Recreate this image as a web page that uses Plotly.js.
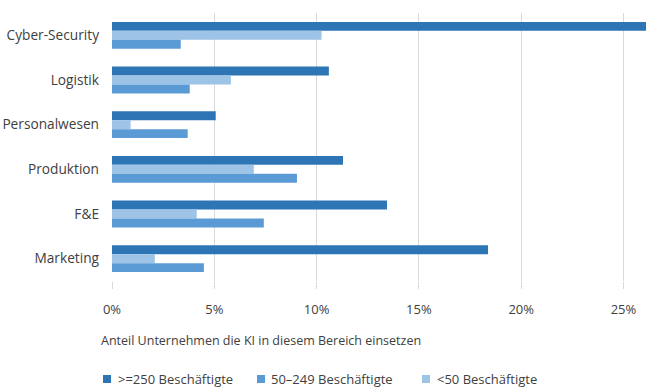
<!DOCTYPE html>
<html>
<head>
<meta charset="utf-8">
<script src="https://cdn.plot.ly/plotly-3.0.1.min.js"></script>
<style>html,body{margin:0;padding:0;background:#fff;}#chart{width:646px;height:390px;}</style>
</head>
<body>
<div id="chart"></div>
<script>
const categories = ['Cyber-Security', 'Logistik', 'Personalwesen', 'Produktion', 'F&E', 'Marketing'];
const seriesNames = ['>=250 Beschäftigte', '50\u2013249 Beschäftigte', '<50 Beschäftigte'];
const valuesLarge = [26.4, 10.6, 5.07, 11.29, 13.44, 18.38];
const valuesMedium = [3.36, 3.80, 3.70, 9.04, 7.42, 4.49];
const valuesSmall = [10.24, 5.81, 0.91, 6.93, 4.14, 2.09];
const xTicks = [0, 5, 10, 15, 20, 25];
const axisTitle = 'Anteil Unternehmen die KI in diesem Bereich einsetzen';

const colors = {large: '#2E75B6', medium: '#5B9BD5', small: '#9DC3E6'};
const FONT = 'Open Sans, sans-serif';
const TXT = '#404040';

const W = 646, H = 390;
const M = {l: 112, r: 0, t: 13, b: 109};
const pw = W - M.l - M.r, ph = H - M.t - M.b;
const px = x => (x - M.l) / pw;
const py = y => (H - M.b - y) / ph;

const traces = [
  {name: seriesNames[0], y: categories, x: valuesLarge, color: colors.large},
  {name: seriesNames[2], y: categories, x: valuesSmall, color: colors.small},
  {name: seriesNames[1], y: categories, x: valuesMedium, color: colors.medium}
].map(t => ({
  type: 'bar', orientation: 'h', name: t.name, y: t.y, x: t.x,
  marker: {color: t.color}, showlegend: false, hoverinfo: 'x+y'
}));

const legendItems = [
  {name: seriesNames[0], color: colors.large, sq: 103, tx: 116},
  {name: seriesNames[1], color: colors.medium, sq: 257, tx: 269},
  {name: seriesNames[2], color: colors.small, sq: 422, tx: 435}
];
const legY = 379;
const shapes = legendItems.map(it => ({
  type: 'rect', xref: 'paper', yref: 'paper',
  x0: px(it.sq), x1: px(it.sq + 8), y0: py(legY + 4), y1: py(legY - 4),
  fillcolor: it.color, line: {width: 0}
}));
const annotations = legendItems.map(it => ({
  xref: 'paper', yref: 'paper', x: px(it.tx), y: py(legY), xanchor: 'left', yanchor: 'middle',
  text: it.name, showarrow: false, font: {family: FONT, size: 13, color: TXT}
}));
annotations.push({
  xref: 'paper', yref: 'paper', x: px(99), y: py(340), xanchor: 'left', yanchor: 'middle',
  text: axisTitle, showarrow: false, font: {family: FONT, size: 12.5, color: TXT}
});

const layout = {
  width: W, height: H, margin: M,
  paper_bgcolor: '#fff', plot_bgcolor: '#fff',
  barmode: 'group', bargap: 0.4, bargroupgap: 0,
  font: {family: FONT, size: 13, color: TXT},
  xaxis: {
    range: [0, 26.1], tickvals: xTicks, ticktext: xTicks.map(v => v + '%'),
    showgrid: true, gridcolor: '#d9d9d9', gridwidth: 1,
    zeroline: false, showline: false,
    ticks: 'outside', ticklen: 7, tickcolor: '#d9d9d9', tickwidth: 1,
    ticklabelstandoff: 9,
    tickfont: {family: FONT, size: 13, color: TXT}
  },
  yaxis: {
    autorange: 'reversed', type: 'category',
    showgrid: false, zeroline: false, showline: false, ticks: '',
    ticklabelstandoff: 12,
    tickfont: {family: FONT, size: 13.7, color: TXT}
  },
  shapes: shapes,
  annotations: annotations
};

Plotly.newPlot('chart', traces, layout, {displayModeBar: false, staticPlot: true});
</script>
</body>
</html>
